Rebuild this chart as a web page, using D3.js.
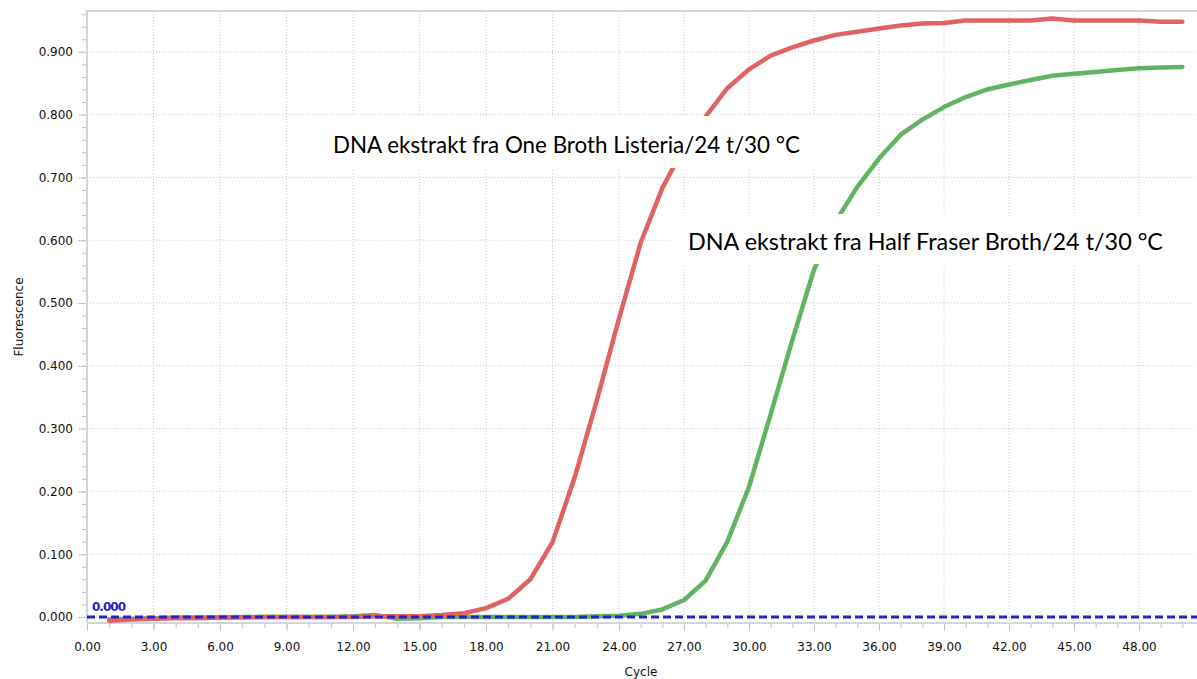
<!DOCTYPE html>
<html lang="en">
<head>
    <meta charset="UTF-8">
    <title>Fluorescence vs Cycle</title>
    <script src="https://d3js.org/d3.v7.min.js"></script>
    <style>
        body {
            margin: 0;
            background-color: #ffffff;
        }
        .tick-label {
            font-family: "DejaVu Sans", sans-serif;
            font-size: 12px;
            fill: #111;
        }
        .grid line {
            stroke: #c4c8cc;
            stroke-width: 1;
            stroke-dasharray: 1,2;
        }
        .curve {
            fill: none;
            stroke-width: 4.5;
            stroke-linejoin: round;
            stroke-linecap: round;
        }
        .threshold {
            stroke: #2323c8;
            stroke-width: 3;
            stroke-dasharray: 8,4;
        }
        .note {
            font-family: Lato, "Open Sans", sans-serif;
            font-size: 24px;
            fill: #000;
        }
    </style>
</head>
<body>
<div id="chart"></div>
<script>
    // cycle numbers (x) and fluorescence per cycle (y)
    var cycles = [1, 2, 3, 4, 5, 6, 7, 8, 9, 10,
                  11, 12, 13, 14, 15, 16, 17, 18, 19, 20,
                  21, 22, 23, 24, 25, 26, 27, 28, 29, 30,
                  31, 32, 33, 34, 35, 36, 37, 38, 39, 40,
                  41, 42, 43, 44, 45, 46, 47, 48, 49, 50];

    var oneBroth = [-0.006, -0.004, -0.003, -0.002, -0.002, -0.001, -0.001, 0.000, 0.000, 0.000,
                    0.000, 0.000, 0.001, 0.001, 0.001, 0.003, 0.006, 0.014, 0.029, 0.060,
                    0.119, 0.222, 0.345, 0.475, 0.596, 0.683, 0.748, 0.797, 0.842, 0.872,
                    0.894, 0.907, 0.918, 0.927, 0.932, 0.937, 0.942, 0.945, 0.946, 0.950,
                    0.950, 0.950, 0.950, 0.953, 0.950, 0.950, 0.950, 0.950, 0.948, 0.948];

    var halfFraser = [-0.004, -0.003, -0.002, -0.001, -0.001, -0.001, 0.000, 0.000, 0.000, 0.000,
                      0.000, 0.001, 0.003, -0.003, -0.002, 0.000, 0.000, 0.000, 0.000, 0.000,
                      0.000, 0.000, 0.001, 0.002, 0.005, 0.012, 0.027, 0.058, 0.120, 0.207,
                      0.323, 0.441, 0.553, 0.630, 0.685, 0.730, 0.768, 0.792, 0.812, 0.828,
                      0.840, 0.848, 0.855, 0.862, 0.865, 0.868, 0.871, 0.874, 0.875, 0.876];

    var xTicks = [0, 3, 6, 9, 12, 15, 18, 21, 24, 27, 30, 33, 36, 39, 42, 45, 48];
    var yTicks = [0, 0.1, 0.2, 0.3, 0.4, 0.5, 0.6, 0.7, 0.8, 0.9];
    var threshold = 0.000;

    var labelOne = "DNA ekstrakt fra One Broth Listeria/24 t/30 °C";
    var labelHalf = "DNA ekstrakt fra Half Fraser Broth/24 t/30 °C";

    var W = 1197, H = 679;
    var plotLeft = 87, plotTop = 11, plotBottom = 623;

    var svg = d3.select("#chart").append("svg")
        .attr("width", W)
        .attr("height", H);

    // scales (x is slightly uneven in the original picture)
    var x = d3.scaleLinear().domain([0, 24, 48, 51]).range([plotLeft, 619, 1139, 1204]);
    var y = d3.scaleLinear().domain([-0.0096, 0.965]).range([plotBottom, plotTop]);

    // grid
    var grid = svg.append("g").attr("class", "grid");
    grid.selectAll(".vg").data(xTicks.slice(1)).enter().append("line")
        .attr("x1", d => x(d)).attr("x2", d => x(d))
        .attr("y1", plotTop).attr("y2", plotBottom);
    grid.selectAll(".hg").data(yTicks).enter().append("line")
        .attr("x1", plotLeft).attr("x2", W)
        .attr("y1", d => y(d)).attr("y2", d => y(d));

    // frame
    svg.append("path")
        .attr("d", "M" + plotLeft + "," + plotBottom + "V" + plotTop + "H" + W + "M" + plotLeft + "," + plotBottom + "H" + W)
        .attr("fill", "none")
        .attr("stroke", "#d2d6da")
        .attr("stroke-width", 2);

    // x axis
    var xAxis = svg.append("g").attr("transform", "translate(0," + (plotBottom + 1) + ")");
    xAxis.append("g").call(d3.axisBottom(x).tickValues(d3.range(0, 51, 1)).tickSize(4).tickFormat(""));
    xAxis.append("g").call(d3.axisBottom(x).tickValues(xTicks).tickSize(7).tickFormat(d3.format(".2f")));
    xAxis.selectAll(".domain").remove();
    xAxis.selectAll("line").attr("stroke", "#c0c4c8");
    xAxis.selectAll("text").attr("class", "tick-label").attr("y", 18).attr("fill", null);

    // y axis
    var yAxis = svg.append("g").attr("transform", "translate(" + (plotLeft - 1) + ",0)");
    yAxis.append("g").call(d3.axisLeft(y).tickValues(d3.range(0, 0.961, 0.02)).tickSize(4).tickFormat(""));
    yAxis.append("g").call(d3.axisLeft(y).tickValues(yTicks).tickSize(8).tickFormat(d3.format(".3f")));
    yAxis.selectAll(".domain").remove();
    yAxis.selectAll("line").attr("stroke", "#c0c4c8");
    yAxis.selectAll("text").attr("class", "tick-label").attr("x", -13).attr("fill", null);

    // axis titles
    svg.append("text")
        .attr("class", "tick-label")
        .attr("x", 641).attr("y", 676)
        .attr("text-anchor", "middle")
        .text("Cycle");
    svg.append("text")
        .attr("class", "tick-label")
        .attr("transform", "translate(23,317) rotate(-90)")
        .attr("text-anchor", "middle")
        .text("Fluorescence");

    // curves
    var line = d3.line()
        .x((d, i) => x(cycles[i]))
        .y(d => y(d));

    svg.append("path").datum(halfFraser)
        .attr("class", "curve")
        .attr("stroke", "#62b462")
        .attr("d", line);
    svg.append("path").datum(oneBroth)
        .attr("class", "curve")
        .attr("stroke", "#e06262")
        .attr("d", line);

    // threshold line
    svg.append("line")
        .attr("class", "threshold")
        .attr("x1", plotLeft).attr("x2", W)
        .attr("y1", y(threshold)).attr("y2", y(threshold));
    svg.append("text")
        .attr("x", plotLeft + 5).attr("y", y(threshold) - 6)
        .attr("font-family", "DejaVu Sans, sans-serif")
        .attr("font-size", 12)
        .attr("font-weight", "bold")
        .attr("fill", "#2323c8")
        .attr("textLength", 34)
        .text(d3.format(".3f")(threshold));

    // annotation boxes
    svg.append("rect")
        .attr("x", 322).attr("y", 116).attr("width", 530).attr("height", 52)
        .attr("fill", "#fff");
    svg.append("text")
        .attr("class", "note")
        .attr("x", 333).attr("y", 153)
        .attr("textLength", 467)
        .attr("lengthAdjust", "spacingAndGlyphs")
        .text(labelOne);

    svg.append("rect")
        .attr("x", 673).attr("y", 214).attr("width", 530).attr("height", 50)
        .attr("fill", "#fff");
    svg.append("text")
        .attr("class", "note")
        .attr("x", 688).attr("y", 250)
        .attr("textLength", 475)
        .attr("lengthAdjust", "spacingAndGlyphs")
        .text(labelHalf);
</script>
</body>
</html>
